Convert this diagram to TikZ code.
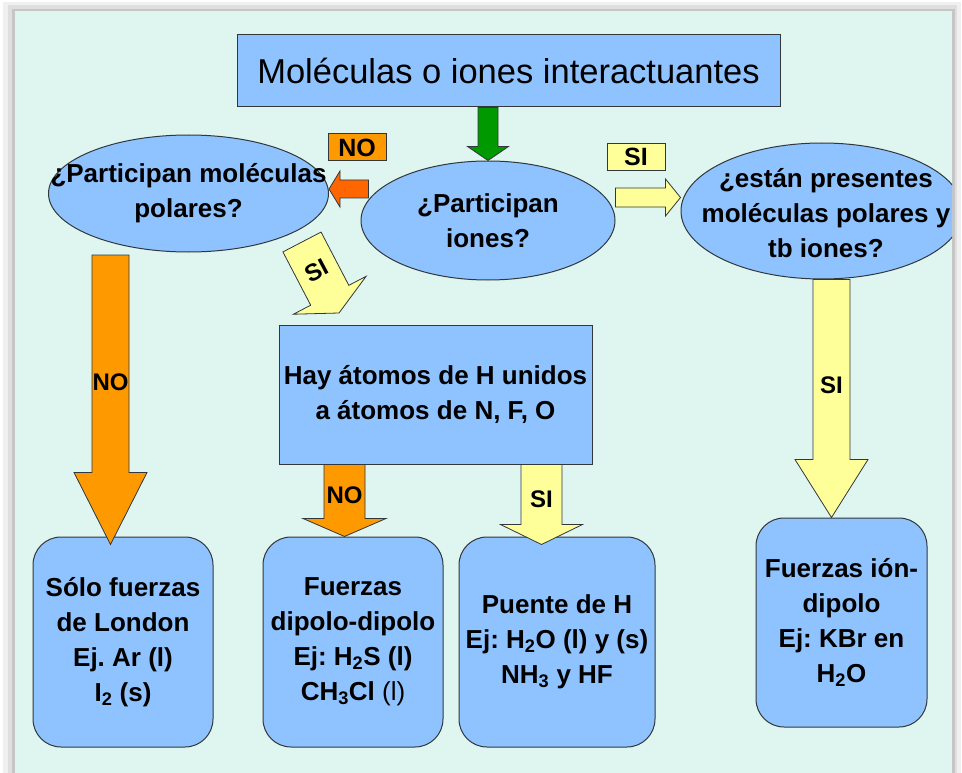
\documentclass[tikz,border=0pt]{standalone}
\usepackage{fontspec}
\setmainfont{Liberation Sans}
\usepackage{xcolor}
\usepackage{tikz}
\usetikzlibrary{shapes.geometric,positioning,calc}
\frenchspacing

\definecolor{bgcyan}{RGB}{222,245,240}
\definecolor{boxblue}{RGB}{143,195,255}
\definecolor{arrorange}{RGB}{255,153,0}
\definecolor{arrred}{RGB}{255,102,0}
\definecolor{arrgreen}{RGB}{0,153,0}
\definecolor{arryellow}{RGB}{255,255,153}
\definecolor{edgegray}{RGB}{50,55,60}

% block arrow: [style]{from}{to}{half shaft}{half head}{head length}
\newcommand{\blockarrow}[6][]{%
	\coordinate (ba-base) at ($(#3)!#6!(#2)$);
	\draw[barrow,#1] ($(#2)!#4!90:(#3)$) -- ($(ba-base)!#4!90:(#3)$) -- ($(ba-base)!#5!90:(#3)$) -- (#3)
		-- ($(ba-base)!#5!-90:(#3)$) -- ($(ba-base)!#4!-90:(#3)$) -- ($(#2)!#4!-90:(#3)$) -- cycle;
}

\tikzset{
	txt/.style={font=\fontsize{26}{35}\selectfont\bfseries, align=center, inner sep=1pt},
	qbubble/.style={ellipse, draw=edgegray, fill=boxblue, line width=1pt},
	resbox/.style={rectangle, rounded corners=28pt, draw=edgegray, fill=boxblue, line width=1pt, txt},
	barrow/.style={draw=edgegray, line width=0.8pt, line join=miter},
	tag/.style={rectangle, draw=edgegray, line width=1pt, font=\fontsize{25}{30}\selectfont\bfseries, inner sep=0pt, minimum width=58pt, minimum height=27pt},
	arrtext/.style={font=\fontsize{24}{28}\selectfont\bfseries, inner sep=0pt},
}

\begin{document}
\begin{tikzpicture}[x=1pt, y=-1pt]
	\useasboundingbox (0,0) rectangle (962,773);
	% frame and shadow
	\fill[gray!12] (3,2) rectangle (961,773);
	\fill[gray!25] (8,5) rectangle (957,773);
	\fill[gray!45] (12,9) rectangle (955,773);
	\fill[bgcyan] (15,11) rectangle (952,773);

	\begin{scope}
		\clip (15,11) rectangle (952,773);

		\node[draw=edgegray, fill=boxblue, line width=1pt, minimum width=543pt, minimum height=72pt,
			font=\fontsize{34.5}{40}\selectfont] (title) at (508.5,71) {Moléculas o iones interactuantes};

		% questions
		\node[qbubble, minimum width=280pt, minimum height=117pt] (pol) at (188.5,193.5) {};
		\node[txt] (pol-text) at (pol) {¿Participan moléculas\\polares?};
		\node[qbubble, minimum width=254pt, minimum height=119pt] (ion) at (488,220.5) {};
		\node[txt] (ion-text) at (ion) {¿Participan\\iones?};
		\node[qbubble, minimum width=282pt, minimum height=136pt] (pres) at (822,211) {};
		\node[txt] (pres-text) at ($(pres)+(4,2)$) {¿están presentes\\moléculas polares y\\tb iones?};

		\node[draw=edgegray, fill=boxblue, line width=1pt, minimum width=313pt, minimum height=139pt, txt]
			(hay) at (435.5,394.5) {Hay átomos de H unidos\\a átomos de N, F, O};

		% results
		\node[resbox, minimum width=180pt, minimum height=210pt] (london) at (123,642)
			{Sólo fuerzas\\de London\\Ej. Ar (l)\\I\textsubscript{2} (s)};
		\node[resbox, minimum width=180pt, minimum height=210pt] (dipolo) at (353,642)
			{Fuerzas\\dipolo-dipolo\\Ej: H\textsubscript{2}S (l)\\CH\textsubscript{3}Cl {\mdseries (l)}};
		\node[resbox, minimum width=196pt, minimum height=210pt] (puente) at (557,642)
			{Puente de H\\Ej: H\textsubscript{2}O (l) y (s)\\NH\textsubscript{3} y HF};
		\node[resbox, minimum width=171pt, minimum height=209pt] (iondip) at (841.5,622.5)
			{Fuerzas ión-\\dipolo\\Ej: KBr en\\H\textsubscript{2}O};

		% arrow ends
		\coordinate (gA) at (title.south -| ion.north);
		\coordinate (noA) at ($(ion.west)+(8,-31.5)$);
		\coordinate (noB) at (noA -| pol.east);
		\coordinate (siA) at ($(ion.east)+(0,-23)$);
		\coordinate (siB) at (siA -| pres.west);
		\coordinate (dA) at (302,242);
		\coordinate (dB) at (339,313);
		\coordinate (lA) at (110.5,255);
		\coordinate (lB) at ($(lA |- london.north)+(0,8)$);
		\coordinate (hA) at ($(hay.south)+(-91,0)$);
		\coordinate (hB) at (hA |- dipolo.north);
		\coordinate (sA) at ($(hay.south)+(106,0)$);
		\coordinate (sB) at ($(sA |- puente.north)+(0,8)$);
		\coordinate (rA) at ($(pres.south)+(9.5,0)$);
		\coordinate (rB) at (rA |- iondip.north);

		% arrows
		\blockarrow[fill=arrgreen]{gA}{ion.north}{10pt}{20.5pt}{14pt}
		\blockarrow[fill=arrred]{noA}{noB}{9pt}{18pt}{11pt}
		\blockarrow[fill=arryellow]{siA}{siB}{9.5pt}{18.5pt}{15pt}
		\blockarrow[fill=arryellow]{dA}{dB}{21.5pt}{41pt}{20pt}
		\blockarrow[fill=arrorange]{lA}{lB}{18.5pt}{36.5pt}{72pt}
		\blockarrow[fill=arrorange]{hA}{hB}{20.5pt}{41.5pt}{18pt}
		\blockarrow[fill=arryellow]{sA}{sB}{20.5pt}{41pt}{20pt}
		\blockarrow[fill=arryellow]{rA}{rB}{18.5pt}{36.5pt}{58pt}

		% labels
		\node[tag, fill=arrorange] (notag) at (357,147.5) {NO};
		\node[tag, fill=arryellow] (sitag) at (636,157) {SI};
		\node[arrtext] (nolondon) at ($(lA)!0.44!(lB)$) {NO};
		\node[arrtext] (nohay) at ($(hA)!0.42!(hB)$) {NO};
		\node[arrtext] (sihay) at ($(sA)!0.44!(sB)$) {SI};
		\node[arrtext] (sipres) at ($(rA)!0.445!(rB)$) {SI};
		\node[arrtext, rotate=28] (sipol) at ($(dA)!0.4!(dB)$) {SI};
	\end{scope}
\end{tikzpicture}
\end{document}
